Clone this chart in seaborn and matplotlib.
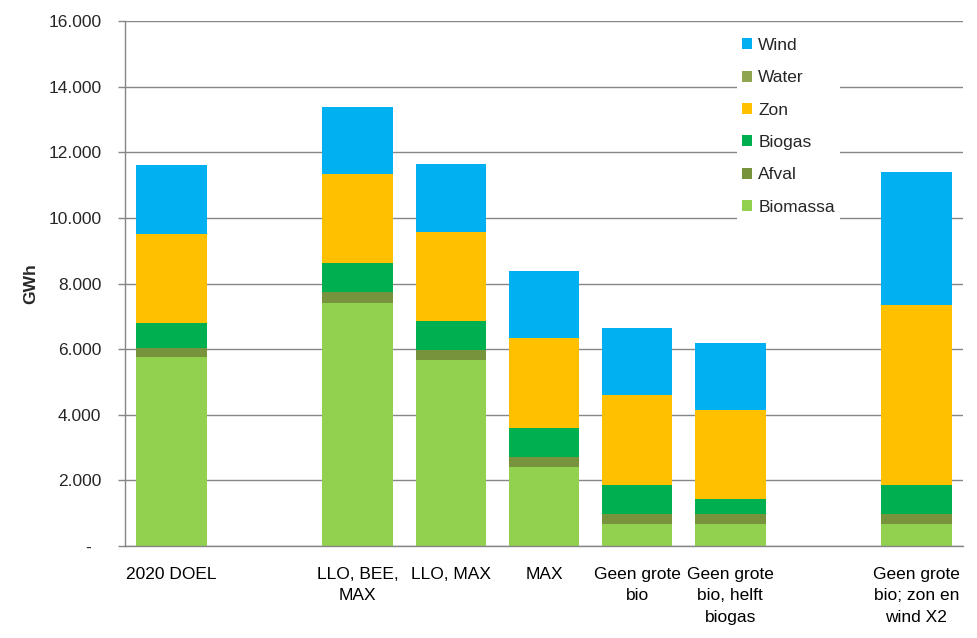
import matplotlib
matplotlib.use("Agg")
import matplotlib.pyplot as plt
from matplotlib.patches import Patch
from matplotlib.ticker import FuncFormatter
import seaborn as sns
import pandas as pd
import numpy as np

# scenario labels (empty strings are spacer slots in the original chart)
scenarios = ["2020 DOEL", "", "LLO, BEE,\nMAX", "LLO, MAX", "MAX",
             "Geen grote\nbio", "Geen grote\nbio, helft\nbiogas", "",
             "Geen grote\nbio; zon en\nwind X2"]

# GWh per source
biomassa = [5760, 0, 7420, 5670, 2420, 670, 670, 0, 670]
afval    = [270, 0, 310, 310, 300, 300, 300, 0, 300]
biogas   = [770, 0, 880, 890, 890, 890, 450, 0, 890]
zon      = [2700, 0, 2730, 2700, 2740, 2740, 2720, 0, 5470]
water    = [0, 0, 0, 0, 0, 0, 0, 0, 0]
wind     = [2100, 0, 2040, 2080, 2030, 2050, 2040, 0, 4060]

sources = ["Biomassa", "Afval", "Biogas", "Zon", "Water", "Wind"]
colors = {"Biomassa": "#92D050", "Afval": "#77933C", "Biogas": "#00B050",
          "Zon": "#FFC000", "Water": "#8EA650", "Wind": "#00B0F0"}

df = pd.DataFrame({"pos": range(len(scenarios)), "Biomassa": biomassa,
                   "Afval": afval, "Biogas": biogas, "Zon": zon,
                   "Water": water, "Wind": wind})

# cumulative tops, drawn from the tallest layer down
for i, s in enumerate(sources):
    df["cum_" + s] = df[sources[:i + 1]].sum(axis=1)

sns.set_style("white")
plt.rcParams["font.family"] = ["Liberation Sans", "DejaVu Sans"]
plt.rcParams["font.size"] = 12.5

fig = plt.figure(figsize=(9.77, 6.38), dpi=100)
ax = fig.add_axes([125 / 977, 1 - 546 / 638, 838 / 977, 525 / 638])

for s in reversed(sources):
    sns.barplot(data=df, x="pos", y="cum_" + s, color=colors[s], width=0.76,
                saturation=1, errorbar=None, linewidth=0, ax=ax, zorder=2)

grid_c = "#868686"
ax.set_ylim(0, 16000)
ax.set_yticks(np.arange(0, 16001, 2000))
ax.yaxis.set_major_formatter(FuncFormatter(
    lambda v, p: "-  " if v == 0 else f"{int(v):,}".replace(",", ".")))
ax.yaxis.grid(True, color=grid_c, linewidth=1)
ax.set_axisbelow(True)
ax.set_xticks(range(len(scenarios)))
ax.set_xticklabels(scenarios, linespacing=1.55)
ax.tick_params(axis="x", length=0, pad=15, labelsize=12.5, colors="black")
ax.tick_params(axis="y", length=5, width=1, color=grid_c, pad=12,
               labelsize=12.5, left=True)

for side in ["top", "right"]:
    ax.spines[side].set_visible(False)
for side in ["left", "bottom"]:
    ax.spines[side].set_color(grid_c)
    ax.spines[side].set_linewidth(1)

ax.set_xlabel("")
ax.set_ylabel("GWh", fontweight="bold", fontsize=12.5)
ax.yaxis.set_label_coords(-0.104, 0.5)

handles = [Patch(facecolor=colors[s], edgecolor="none") for s in reversed(sources)]
leg = ax.legend(handles, list(reversed(sources)), loc="upper left",
                bbox_to_anchor=((728 - 125) / 838, (546 - 24) / 525),
                frameon=True, fancybox=False, framealpha=1, facecolor="white",
                edgecolor="none", handlelength=0.6, handleheight=0.6,
                handletextpad=0.35, labelspacing=1.0, borderpad=0.3,
                fontsize=12.5)
leg.get_frame().set_linewidth(0)

fig.savefig("out.png", dpi=100)
